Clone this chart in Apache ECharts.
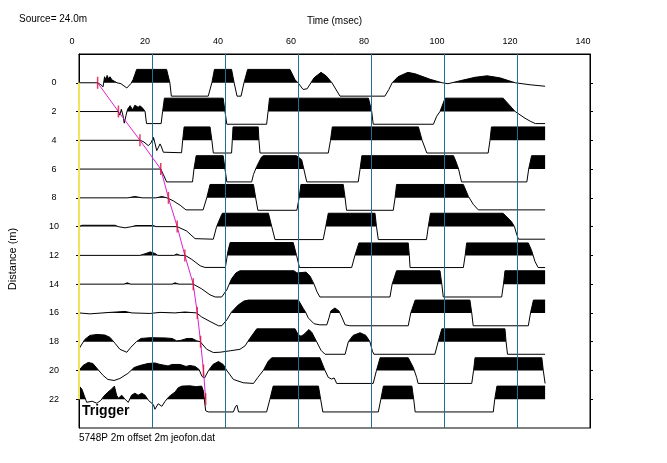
<!DOCTYPE html>
<html><head><meta charset="utf-8">
<script src="https://cdn.jsdelivr.net/npm/echarts@6.0.0/dist/echarts.min.js"></script>
<style>html,body{margin:0;padding:0;background:#fff}#c{width:667px;height:463px}</style>
</head><body><div id="c"></div>
<script>
// Trace offsets (Distance, m) and axis ticks
const distances = [0,2,4,6,8,10,12,14,16,18,20,22];
const timeTicks = [0,20,40,60,80,100,120,140];
const gridTimes = [20,40,60,80,100,120];
// first-break picks (msec), one per trace
const picks = [5.1,10.8,16.7,22.4,24.5,26.9,29.0,31.3,32.4,33.3,34.1,34.7];

// Trace samples: [time msec, amplitude (1 = clip level)]
const trace0 = [[0,0],[5.1,0],[6.0,-0.15],[6.6,-0.3],[7.0,0.45],[7.4,0.22],[7.7,0.55],[8.1,0.3],[8.5,0.45],[9.0,0.22],[10.4,0],[11.5,-0.07],[13.1,-0.39],[14.2,-0.07],[14.8,0.22],[15.8,1],[24.0,1],[24.9,0],[25.3,-1],[35.4,-1],[36.4,0],[37.1,1],[41.8,1],[42.5,0],[43.3,-1],[44.4,-1],[45.2,0],[46.2,1],[57.8,1],[59.2,0.22],[60.0,0],[61.4,-0.5],[62.5,-0.45],[64.4,0.37],[66.3,0.78],[67.7,0.52],[69.3,0],[71.5,-1],[83.8,-1],[84.9,-0.5],[85.8,0],[87.4,0.45],[90.1,0.78],[92.1,0.67],[96.2,0.26],[99.5,0],[101.1,-0.07],[104.4,0.15],[108.5,0.41],[111.8,0.52],[115.3,0.37],[119.5,0],[123.6,-0.15],[127.7,-0.26]];
const trace2 = [[0,0],[10.7,0],[11.2,-0.27],[11.6,0.17],[12.1,-0.35],[12.4,-0.87],[12.9,-0.27],[13.3,0.17],[14.0,0.44],[14.7,0.13],[15.3,0.47],[16.2,0.32],[16.7,0.43],[17.5,0.24],[18.1,0],[18.5,-0.9],[22.5,-0.9],[22.9,0],[23.4,1],[39.5,1],[40.0,0],[40.5,-0.95],[51.4,-0.95],[51.8,0],[52.2,1],[79.3,1],[80.2,0],[80.6,-0.95],[97.1,-0.95],[98.0,-0.35],[98.9,0],[100.3,1],[116.2,1],[119.5,0],[122.2,-0.5],[123.6,-0.72],[125.0,-0.9],[127.7,-0.9]];
const trace4 = [[0,0],[16.8,0],[17.8,-0.13],[19.0,-0.4],[19.7,-0.2],[20.4,0.22],[20.8,-0.2],[21.3,-0.77],[21.8,-0.5],[22.2,-0.27],[22.6,-0.5],[23.1,-0.89],[28.1,-0.93],[28.4,0],[28.8,1],[35.9,1],[36.4,0],[36.8,-0.95],[41.8,-0.95],[42.0,0],[42.2,1],[49.1,1],[49.3,0],[49.6,-0.95],[68.3,-0.95],[68.9,0],[69.4,1],[93.0,1],[94.0,0],[95.3,-0.95],[112.1,-0.95],[112.6,0],[113.0,1],[127.7,1]];
const trace6 = [[0,0],[22.4,0],[23.1,-0.4],[24.0,-0.96],[31.1,-0.96],[31.5,0],[32.1,1],[39.5,1],[40.0,0],[40.5,-0.96],[47.3,-0.96],[47.8,-0.4],[48.7,0.2],[50.0,0.9],[50.5,1],[59.6,1],[61.0,0.7],[61.6,0],[62.4,-0.96],[76.5,-0.96],[77.0,0],[77.5,1],[102.6,1],[103.3,0.55],[104.0,0],[104.8,-0.96],[122.7,-0.96],[123.2,0],[124.0,1],[127.7,1]];
const trace8 = [[0,0],[13.4,0],[15.3,0.1],[17.3,0],[21.1,0],[22.7,0.1],[24.1,0],[25.8,-0.22],[27.7,-0.55],[29.3,-0.9],[34.0,-0.9],[35.0,0],[35.9,1],[47.8,1],[48.4,0],[49.0,-0.93],[59.7,-0.93],[60.3,0],[60.8,1],[72.4,1],[72.9,0],[73.3,-0.93],[86.1,-0.93],[86.6,0],[87.0,1],[105.3,1],[106.7,0.1],[108.0,-0.48],[109.4,-0.9],[127.7,-0.9]];
const trace10 = [[0,0],[0.8,0.1],[9.9,0.1],[10.7,0],[12.6,-0.09],[14.5,0],[15.6,0.08],[20.3,0.08],[21.1,0],[26.9,0],[29.5,-0.33],[31.8,-0.9],[36.8,-0.94],[37.7,0],[39.1,0.91],[39.3,1],[51.9,1],[52.8,0],[53.7,-0.97],[66.9,-0.97],[67.6,0],[68.3,1],[81.1,1],[81.5,0],[82.0,-0.97],[95.2,-0.97],[95.7,0],[96.3,1],[116.2,1],[118.5,0.37],[119.3,0],[119.9,-0.57],[120.4,-0.94],[127.7,-0.94]];
const trace12 = [[0,0],[16.7,0],[18.4,0.15],[19.5,0.26],[20.8,0.15],[21.6,0],[26.0,0],[26.8,0.1],[27.7,0],[29.1,0],[30.9,-0.3],[33.2,-0.78],[34.5,-0.9],[40.1,-0.9],[40.5,-0.22],[40.8,0.3],[41.4,0.96],[58.7,0.96],[59.6,0],[60.4,-0.91],[74.7,-0.91],[75.6,0],[76.7,0.93],[90.2,0.93],[90.5,0],[90.7,-0.91],[105.3,-0.91],[105.8,0],[106.2,0.93],[123.1,0.93],[124.0,0.37],[124.9,-0.44],[125.8,-0.91],[127.7,-0.91]];
const trace14 = [[0,0],[12.3,0],[13.2,0.1],[14.2,0],[25.5,0],[26.3,0.1],[27.4,0],[31.3,0],[33.6,-0.35],[35.9,-0.8],[37.3,-0.96],[39.1,-0.96],[40.5,-0.42],[41.8,0.4],[43.0,0.84],[44.1,1],[58.9,1],[59.7,0.84],[61.1,0.87],[62.2,0.9],[63.3,0.6],[64.4,0],[65.2,-0.57],[66.0,-0.96],[85.2,-0.96],[85.8,0],[87.0,1],[98.9,1],[99.4,0],[99.8,-0.96],[115.8,-0.96],[116.3,0],[116.7,1],[127.7,1]];
const trace16 = [[0,0],[3.0,-0.07],[8.5,0.04],[12.6,0.11],[14.5,0],[19.5,-0.04],[22.2,0.04],[26.3,0],[29.0,0.07],[32.2,0],[33.6,-0.3],[35.9,-0.64],[38.2,-0.96],[39.1,-0.96],[40.5,-0.52],[41.8,0.07],[43.6,0.59],[45.2,0.89],[46.4,0.96],[60.1,0.96],[61.4,0.35],[62.2,0],[62.8,-0.37],[64.4,-0.81],[66.0,-0.89],[67.9,-0.89],[68.5,-0.37],[69.0,0.15],[70.1,0.37],[71.2,0.15],[72.1,-0.37],[72.9,-0.89],[74.2,-0.96],[90.2,-0.96],[90.9,0],[92.1,0.96],[107.1,0.96],[107.6,0],[108.0,-0.96],[123.1,-0.96],[123.7,0],[124.5,0.96],[127.7,0.96]];
const trace18 = [[0,-0.53],[1.6,0.17],[3.0,0.47],[4.9,0.54],[7.1,0.5],[8.5,0.32],[9.9,-0.13],[11.2,-0.57],[13.1,-0.79],[14.2,-0.42],[15.8,0.02],[17.0,0.24],[19.5,0.3],[23.6,0.28],[25.5,0.24],[26.8,0.06],[27.9,0.1],[29.6,0.24],[31.0,0.24],[32.3,0.06],[33.2,0],[35.0,-0.57],[36.8,-0.81],[38.6,-0.79],[41.4,-0.68],[44.1,-0.57],[45.5,-0.31],[46.8,0.24],[48.7,0.96],[59.2,0.96],[60.0,0.54],[60.8,0.41],[61.6,0.54],[63.0,0.91],[63.8,0.69],[65.1,0],[66.3,-0.64],[67.4,-0.94],[72.9,-0.94],[73.8,0],[75.1,0.47],[77.0,0.67],[78.6,0.47],[79.7,0],[80.4,-0.72],[80.8,-0.94],[97.5,-0.94],[98.4,0],[99.4,0.96],[116.7,0.96],[117.0,0],[117.4,-0.94],[127.7,-0.94]];
const trace20 = [[0,0],[1.1,0.37],[2.5,0.6],[3.8,0.52],[5.2,0.07],[6.6,-0.37],[7.9,-0.67],[9.6,-0.75],[11.2,-0.6],[13.4,-0.22],[15.1,0.22],[16.7,0.37],[18.9,0.52],[20.8,0.56],[22.2,0.45],[24.4,0.34],[25.5,0.45],[27.7,0.45],[29.3,0.3],[30.4,0.37],[31.8,0.3],[32.9,0.07],[33.7,-0.45],[34.4,-0.56],[35.5,0],[36.7,0.45],[38.2,0.67],[39.5,0.45],[40.5,0],[42.3,-0.67],[45.0,-0.92],[47.8,-0.97],[49.0,-0.52],[50.5,0],[51.8,0.67],[52.8,0.95],[66.0,0.95],[67.4,0],[68.3,-0.52],[69.2,-0.64],[69.9,-0.56],[70.6,-0.97],[80.6,-0.97],[81.5,0],[82.5,0.95],[90.2,0.95],[91.6,0.22],[92.5,-0.52],[92.9,-0.97],[107.6,-0.97],[108.1,0],[108.5,0.95],[126.8,0.95],[127.2,0],[127.7,-0.97]];
const trace22 = [[0,1],[0.8,0.75],[1.4,0.3],[2.1,-0.23],[3.6,-0.15],[4.9,-0.3],[6.0,-0.08],[6.8,0.23],[7.9,0.53],[8.9,0.75],[9.7,0.98],[10.3,0.3],[10.8,0.08],[11.7,0.3],[12.6,0],[13.5,-0.23],[14.4,0.3],[15.3,0.45],[16.2,0.3],[17.2,0.45],[18.1,0.3],[19.0,-0.08],[20.4,-0.41],[20.8,-0.75],[21.7,-0.34],[22.7,-0.53],[23.6,-0.15],[24.5,0.15],[25.5,0.38],[26.3,0.53],[27.2,0.86],[28.2,0.98],[30.4,1],[32.1,0.94],[33.6,0.98],[34.1,0.6],[34.7,-0.86],[35.4,-0.95],[42.3,-0.95],[42.9,-0.53],[43.3,-0.45],[43.7,-0.95],[51.4,-0.95],[52.3,0],[53.2,0.98],[65.6,0.98],[66.2,0],[66.8,-0.95],[82.0,-0.95],[82.7,0],[83.4,0.98],[91.2,0.98],[91.7,0],[92.1,-0.95],[113.5,-0.95],[113.9,0],[114.5,0.98],[127.7,0.98]];
const traces = [trace0,trace2,trace4,trace6,trace8,trace10,trace12,trace14,trace16,trace18,trace20,trace22];

const AMP = 0.93; // metres of offset per unit amplitude
const FONT = 'Liberation Sans, Arial, sans-serif';

function renderTrace(params, api) {
  const i = params.dataIndex;
  const d = distances[i];
  const tr = traces[i];
  const pt = (t, a) => api.coord([t, d - a * AMP]);
  const line = tr.map(p => pt(p[0], p[1]));
  const fill = [pt(tr[0][0], 0)];
  for (let k = 0; k < tr.length; k++) {
    const t = tr[k][0], a = tr[k][1];
    if (k > 0) {
      const t0 = tr[k-1][0], a0 = tr[k-1][1];
      if ((a0 > 0 && a < 0) || (a0 < 0 && a > 0)) {
        fill.push(pt(t0 + (t - t0) * a0 / (a0 - a), 0));
      }
    }
    fill.push(pt(t, Math.max(a, 0)));
  }
  fill.push(pt(tr[tr.length-1][0], 0));
  return {type:'group', children:[
    {type:'polygon', shape:{points:fill}, style:{fill:'#000', stroke:null}},
    {type:'polyline', shape:{points:line}, style:{stroke:'#000', lineWidth:1, fill:null}}
  ]};
}

// vertical time grid lines, drawn as 1-px rects on whole pixels
function renderGrid(params, api) {
  const t = gridTimes[params.dataIndex];
  const top = api.coord([t, -2]);
  const bot = api.coord([t, 24]);
  const x = Math.round(top[0]);
  return {type:'rect', shape:{x:x, y:top[1], width:1, height:bot[1]-top[1]}, style:{fill:'#236f91'}};
}

const pickPts = picks.map((t,i) => [t, distances[i]]);

const chart = echarts.init(document.getElementById('c'));
chart.setOption({
  animation:false,
  backgroundColor:'#fff',
  grid:{left:79, top:54, width:511, height:374, show:true, borderColor:'#000', borderWidth:1, backgroundColor:'#fff'},
  xAxis:[{type:'value', position:'top', min:timeTicks[0], max:timeTicks[timeTicks.length-1], interval:20,
    axisLine:{show:true, onZero:false, lineStyle:{color:'#000', width:1}}, axisTick:{show:false}, splitLine:{show:false},
    axisLabel:{fontSize:9, color:'#000', margin:8, padding:[0,14,0,0], fontFamily:FONT}}],
  yAxis:[
    {type:'value', inverse:true, min:-2, max:24, interval:2, position:'left',
     axisLine:{show:true, onZero:false, lineStyle:{color:'#000'}},
     axisTick:{show:true, length:3, customValues:distances, lineStyle:{color:'#000'}},
     axisLabel:{customValues:distances, fontSize:9, color:'#000', align:'center', margin:25, fontFamily:FONT},
     splitLine:{show:false}},
    {type:'value', inverse:true, min:-2, max:24, interval:2, position:'right',
     axisLine:{show:true, onZero:false, lineStyle:{color:'#000'}},
     axisTick:{show:true, length:3, customValues:distances, lineStyle:{color:'#000'}},
     axisLabel:{show:false}, splitLine:{show:false}}
  ],
  series:[
    {type:'custom', coordinateSystem:'cartesian2d', data:distances.map(d => [0, d]), encode:{x:0, y:1},
     renderItem:renderTrace, clip:false, z:2, silent:true},
    {type:'custom', coordinateSystem:'cartesian2d', data:gridTimes.map(t => [t, 0]), encode:{x:0, y:1},
     renderItem:renderGrid, clip:false, z:4, silent:true},
    {type:'line', data:[[0, distances[0]], [0, distances[distances.length-1]]], symbol:'none',
     lineStyle:{color:'#f2e45a', width:2}, z:6, silent:true},
    {type:'line', data:pickPts, symbol:'none', lineStyle:{color:'#e020d0', width:1}, z:5, silent:true},
    {type:'scatter', data:pickPts, symbol:'rect', symbolSize:[1.5,12], itemStyle:{color:'#d8103a'}, z:7, silent:true}
  ],
  graphic:[
    {type:'text', x:19, y:19, style:{text:'Source= 24.0m', font:'10px '+FONT, fill:'#000', textVerticalAlign:'middle'}},
    {type:'text', x:334.5, y:21, style:{text:'Time (msec)', font:'10px '+FONT, fill:'#000', textAlign:'center', textVerticalAlign:'middle'}},
    {type:'text', x:13, y:259, rotation:Math.PI/2, style:{text:'Distance (m)', font:'11px '+FONT, fill:'#000', textAlign:'center', textVerticalAlign:'middle'}},
    {type:'text', x:79, y:438, style:{text:'5748P 2m offset 2m jeofon.dat', font:'10px '+FONT, fill:'#000', textVerticalAlign:'middle'}},
    {type:'text', x:82, y:411, z:10, style:{text:'Trigger', font:'bold 14px '+FONT, fill:'#000', textVerticalAlign:'middle'}}
  ]
});
</script></body></html>
